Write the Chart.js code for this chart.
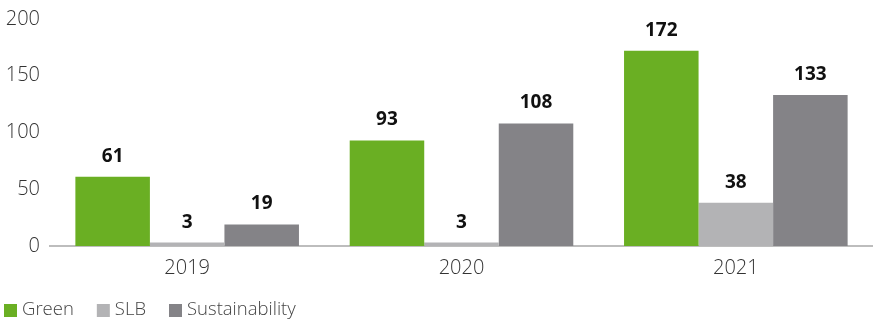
<!DOCTYPE html>
<html>
<head>
<meta charset="utf-8">
<script src="https://cdn.jsdelivr.net/npm/chart.js@4.4.0/dist/chart.umd.min.js"></script>
<style>
  html,body{margin:0;padding:0;background:#fff;}
  #wrap{width:873px;height:321px;position:relative;}
</style>
</head>
<body>
<div id="wrap"><canvas id="chart"></canvas></div>
<script>
// Bond issuance by year and type
const years = ['2019', '2020', '2021'];
const green = [61, 93, 172];
const slb = [3, 3, 38];
const sustainability = [19, 108, 133];
const yTicks = [0, 50, 100, 150, 200];

const FONT = "'Open Sans', 'Noto Sans', sans-serif";

// draw the value above each bar
const barValues = {
  id: 'barValues',
  afterDatasetsDraw(chart){
    const ctx = chart.ctx;
    ctx.save();
    ctx.font = 'bold 19px ' + FONT;
    ctx.fillStyle = '#111';
    ctx.textAlign = 'center';
    ctx.textBaseline = 'alphabetic';
    chart.data.datasets.forEach((ds, i)=>{
      chart.getDatasetMeta(i).data.forEach((bar, j)=>{
        ctx.fillText(ds.data[j], bar.x, bar.y - 15);
      });
    });
    ctx.restore();
  }
};

// simple square-box legend along the bottom left
const bottomLegend = {
  id: 'bottomLegend',
  afterDraw(chart){
    const ctx = chart.ctx;
    ctx.save();
    ctx.font = '300 18.5px ' + FONT;
    ctx.textBaseline = 'middle';
    ctx.textAlign = 'left';
    let x = 4;
    const y = 310;
    chart.data.datasets.forEach(ds=>{
      ctx.fillStyle = ds.backgroundColor;
      ctx.fillRect(x, y - 6, 13, 13);
      ctx.fillStyle = '#444';
      ctx.fillText(ds.label, x + 18, y);
      x += 18 + ctx.measureText(ds.label).width + 23;
    });
    ctx.restore();
  }
};

new Chart(document.getElementById('chart'), {
  type: 'bar',
  data: {
    labels: years,
    datasets: [
      {label: 'Green', data: green, backgroundColor: '#6aaf23'},
      {label: 'SLB', data: slb, backgroundColor: '#b3b3b5'},
      {label: 'Sustainability', data: sustainability, backgroundColor: '#848387'}
    ]
  },
  options: {
    responsive: true,
    maintainAspectRatio: false,
    animation: false,
    layout: {padding: {top: 0, right: 0, left: 0, bottom: 30}},
    datasets: {bar: {barPercentage: 1, categoryPercentage: 0.815}},
    plugins: {
      legend: {display: false},
      tooltip: {enabled: false}
    },
    scales: {
      x: {
        afterFit(axis){ axis.height = 45; },
        grid: {display: false, drawTicks: false},
        border: {display: true, color: '#bdbdbd', width: 2},
        ticks: {font: {family: FONT, size: 20, weight: 300}, color: '#333', padding: 10}
      },
      y: {
        min: 0,
        max: 200,
        afterBuildTicks(axis){ axis.ticks = yTicks.map(v=>({value: v})); },
        afterFit(axis){ axis.width = 50; axis.paddingTop = 19; },
        grid: {display: false, drawTicks: false},
        border: {display: false},
        ticks: {font: {family: FONT, size: 20, weight: 300}, color: '#333', padding: 10}
      }
    }
  },
  plugins: [barValues, bottomLegend]
});
</script>
</body>
</html>
